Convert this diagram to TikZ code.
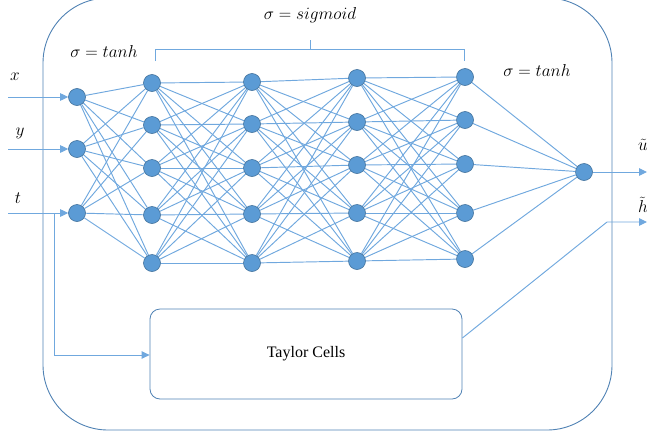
\documentclass[tikz,border=0pt]{standalone}
\usepackage{fontspec}
\newfontfamily\timesfont{Liberation Serif}
\usetikzlibrary{arrows.meta,backgrounds}
\definecolor{nodefill}{RGB}{91,155,213}
\definecolor{nodeedge}{RGB}{65,113,156}
\definecolor{linkcol}{RGB}{112,168,222}
\definecolor{framecol}{RGB}{80,130,180}
\begin{document}
\begin{tikzpicture}[x=1pt,y=-1pt,
  neuron/.style={circle,fill=nodefill,draw=nodeedge,line width=0.6pt,minimum size=17pt,inner sep=0pt},
  link/.style={draw=linkcol,line width=0.95pt},
  arr/.style={link,-{Triangle[length=8pt,width=7.5pt]}},
  lab/.style={font=\fontsize{17}{20}\selectfont,inner sep=0pt},
  cellbox/.style={draw=framecol,line width=0.8pt,rounded corners=10pt,minimum width=312pt,minimum height=90pt,font=\timesfont\fontsize{16}{19}\selectfont}]
\useasboundingbox (0,0) rectangle (647,434);
\begin{scope}
\clip (0,0) rectangle (647,434);
\draw[framecol,line width=0.9pt,rounded corners=65pt] (43,-2) rectangle (612,430);
\end{scope}
% neurons
\foreach \i/\y in {1/97,2/149,3/213} \node[neuron] (a\i) at (77,\y) {};
\foreach \i/\y in {1/83,2/125,3/168,4/215,5/263} \node[neuron] (b\i) at (152,\y) {};
\foreach \i/\y in {1/82,2/124,3/168,4/214,5/263} \node[neuron] (c\i) at (252,\y) {};
\foreach \i/\y in {1/78,2/122,3/165,4/213,5/261} \node[neuron] (d\i) at (357,\y) {};
\foreach \i/\y in {1/77,2/120,3/164,4/213,5/259} \node[neuron] (e\i) at (465,\y) {};
\node[neuron] (o) at (584,172) {};
% links
\begin{scope}[on background layer]
\foreach \i in {1,2,3} \foreach \j in {1,...,5} \draw[link] (a\i) -- (b\j);
\foreach \i in {1,...,5} \foreach \j in {1,...,5} {
  \draw[link] (b\i) -- (c\j);
  \draw[link] (c\i) -- (d\j);
  \draw[link] (d\i) -- (e\j);
}
\foreach \i in {1,...,5} \draw[link] (e\i) -- (o);
\end{scope}
% taylor cells
\node[cellbox] (taylor) at (306,354) {Taylor Cells};
% inputs
\coordinate (xin) at (8,97);
\coordinate (yin) at (8,149);
\coordinate (tin) at (8,213);
\draw[arr] (xin) -- (a1);
\draw[arr] (yin) -- (a2);
\draw[arr] (tin) -- (a3);
\coordinate (tb) at (54,213);
\coordinate (tc) at (54,355);
\draw[arr] (tb) -- (tc) -- (taylor.west |- tc);
% outputs
\coordinate (uout) at (647,172);
\draw[arr] (o) -- (uout);
\coordinate (hk) at (607,222);
\coordinate (hout) at (647,222);
\draw[arr] ([yshift=16pt]taylor.east) -- (hk) -- (hout);
% bracket
\coordinate (br1) at (155,61);
\coordinate (br2) at (155,49);
\coordinate (br3) at (464,49);
\coordinate (br4) at (464,61);
\coordinate (bm1) at (310,49);
\coordinate (bm2) at (310,40);
\draw[link] (br1) -- (br2) -- (br3) -- (br4);
\draw[link] (bm1) -- (bm2);
% labels
\node[lab] (ls) at (310,15) {$\sigma = sigmoid$};
\node[lab] (lt1) at (104,51) {$\sigma = tanh$};
\node[lab] (lt2) at (537,70) {$\sigma = tanh$};
\node[lab] (lx) at (15,77) {$x$};
\node[lab] (ly) at (20,133) {$y$};
\node[lab] (ltt) at (18,198) {$t$};
\node[lab] (lu) at (643,145) {$\tilde{u}$};
\node[lab] (lh) at (643,205) {$\tilde{h}$};
\end{tikzpicture}
\end{document}
